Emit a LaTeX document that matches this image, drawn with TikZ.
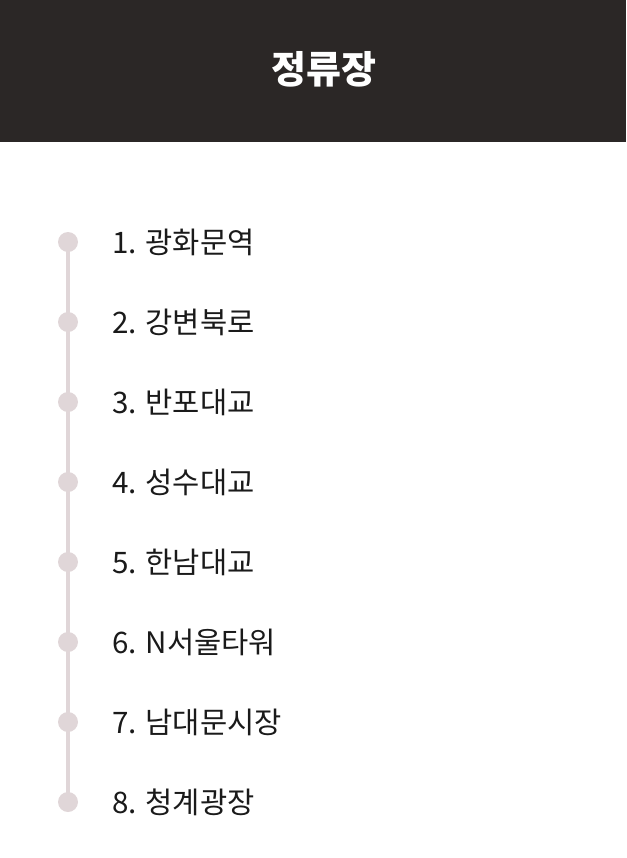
\documentclass[tikz,border=0pt]{standalone}
\usepackage{fontspec}
\setmainfont{Noto Sans CJK KR}
\usetikzlibrary{positioning,backgrounds}
\definecolor{headbg}{HTML}{2B2726}
\definecolor{dotgray}{HTML}{E0D6D8}
\definecolor{itemtext}{HTML}{1A1A1A}

\begin{document}
\begin{tikzpicture}[x=0.75pt,y=-0.75pt,inner sep=0pt,
  stopdot/.style={circle,fill=dotgray,minimum size=15pt},
  stoplabel/.style={anchor=west,font=\fontsize{22.2}{26}\selectfont,text=itemtext}]
\useasboundingbox (0,0) rectangle (626,858);

% header
\fill[headbg] (0,0) rectangle (626,142);
\node[text=white,font=\fontsize{28.5}{33}\selectfont\bfseries] (title) at (324,69) {정류장};

% stops
\foreach \name [count=\i] in {광화문역,강변북로,반포대교,성수대교,한남대교,N서울타워,남대문시장,청계광장} {
  \node[stopdot] (d\i) at (68,{162+80*\i}) {};
  \node[stoplabel] (s\i) at (112,{162+80*\i}) {\i. \name};
}
\begin{scope}[on background layer]
\draw[dotgray,line width=3pt] (d1.center) -- (d8.center);
\end{scope}

\end{tikzpicture}
\end{document}
